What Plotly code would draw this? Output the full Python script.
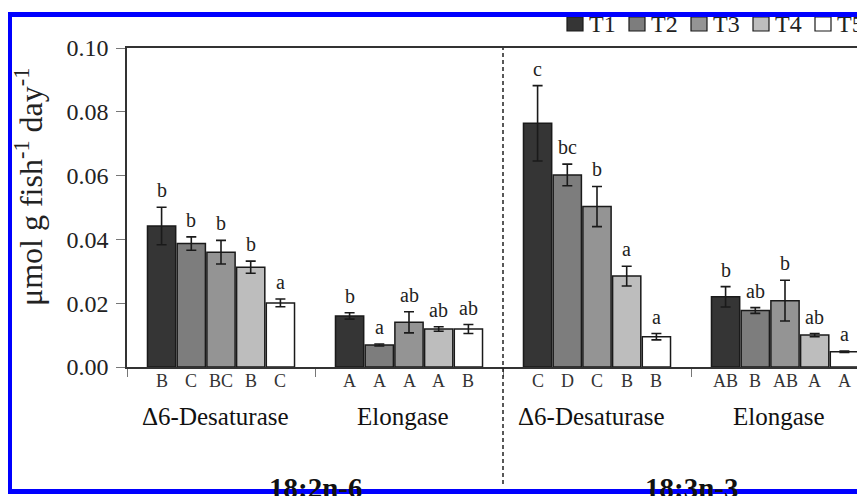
import plotly.graph_objects as go

# ---------------- data ----------------
enzymes = ["Δ6-Desaturase", "Elongase", "Δ6-Desaturase", "Elongase"]
fatty_acids = ["18:2n-6", "18:3n-3"]
treatments = ["T1", "T2", "T3", "T4", "T5"]

T1 = [0.0442, 0.0160, 0.0764, 0.0220]
T2 = [0.0387, 0.0069, 0.0602, 0.0177]
T3 = [0.0360, 0.0140, 0.0503, 0.0208]
T4 = [0.0313, 0.0119, 0.0285, 0.0100]
T5 = [0.0201, 0.0119, 0.0095, 0.0048]

T1_err = [0.0059, 0.0010, 0.0118, 0.0032]
T2_err = [0.0021, 0.0003, 0.0034, 0.0009]
T3_err = [0.0037, 0.0033, 0.0063, 0.0064]
T4_err = [0.0019, 0.0007, 0.0031, 0.0005]
T5_err = [0.0012, 0.0014, 0.0010, 0.0002]

T1_upper = ["b", "b", "c", "b"]
T2_upper = ["b", "a", "bc", "ab"]
T3_upper = ["b", "ab", "b", "b"]
T4_upper = ["b", "ab", "a", "ab"]
T5_upper = ["a", "ab", "a", "a"]

T1_lower = ["B", "A", "C", "AB"]
T2_lower = ["C", "A", "D", "B"]
T3_lower = ["BC", "A", "C", "AB"]
T4_lower = ["B", "A", "B", "A"]
T5_lower = ["C", "B", "B", "A"]

y_ticks = [0.00, 0.02, 0.04, 0.06, 0.08, 0.10]

values = [T1, T2, T3, T4, T5]
errors = [T1_err, T2_err, T3_err, T4_err, T5_err]
upper = [T1_upper, T2_upper, T3_upper, T4_upper, T5_upper]
lower = [T1_lower, T2_lower, T3_lower, T4_lower, T5_lower]

# ---------------- style ----------------
colors = ["#353535", "#7d7d7d", "#949494", "#bdbdbd", "#ffffff"]
FONT = "Liberation Serif, Times New Roman, serif"
PAGE = 8                      # default body margin of the html page
W, H = 865 - PAGE, 496 - PAGE
ML, MT = 127 - PAGE, 48 - PAGE
PLOT_BOTTOM = 367 - PAGE
MR, MB = 0, H - PLOT_BOTTOM
PW, PH = W - ML - MR, H - MT - MB
GROUP_PX = 188.0
BARGAP, BARGROUPGAP = 0.21, 0.05


def px_x(p):
    """screen x (window pixel) -> paper x"""
    return (p - PAGE - ML) / PW


def px_y(p):
    """screen y (window pixel) -> paper y"""
    return (PLOT_BOTTOM - (p - PAGE)) / PH


x_groups = list(range(len(enzymes)))
fig = go.Figure()
for k, name in enumerate(treatments):
    fig.add_trace(go.Bar(
        name=name, x=x_groups, y=values[k],
        marker=dict(color=colors[k], line=dict(color="#1a1a1a", width=1.5)),
        error_y=dict(type="data", array=errors[k], visible=True,
                     color="#1a1a1a", thickness=1.6, width=5),
        showlegend=False,
    ))

slot = (1 - BARGAP) / len(treatments)
annotations = []
for k in range(len(treatments)):
    off = -(1 - BARGAP) / 2 + slot * (k + 0.5)
    for g in x_groups:
        annotations.append(dict(
            x=g + off, y=values[k][g] + errors[k][g], xref="x", yref="y",
            text=upper[k][g], showarrow=False, yanchor="bottom", yshift=4,
            font=dict(family=FONT, size=20, color="#222")))
        annotations.append(dict(
            x=g + off, y=0, xref="x", yref="y",
            text=lower[k][g], showarrow=False, yanchor="middle", yshift=-14,
            font=dict(family=FONT, size=18, color="#333")))

for g in x_groups:
    annotations.append(dict(
        x=g, y=0, xref="x", yref="y", text=enzymes[g], showarrow=False,
        yanchor="middle", yshift=-49, xshift=-6,
        font=dict(family=FONT, size=25, color="#111")))

for i, fa in enumerate(fatty_acids):
    annotations.append(dict(
        x=2 * i + 0.5, y=0, xref="x", yref="y", text="<b>" + fa + "</b>",
        showarrow=False, yanchor="middle", yshift=-121,
        font=dict(family=FONT, size=29, color="#111")))

# y axis title
annotations.append(dict(
    x=px_x(29), y=px_y(187), xref="paper", yref="paper",
    text="μmol g fish<sup>-1</sup> day<sup>-1</sup>", textangle=-90,
    showarrow=False, xanchor="center", yanchor="middle",
    font=dict(family=FONT, size=32, color="#222")))

shapes = [
    dict(type="line", xref="x", yref="paper", x0=1.5, x1=1.5,
         y0=px_y(484), y1=1, line=dict(color="#222", width=1.5, dash="4px,3px")),
]

# legend (top right)
for k, name in enumerate(treatments):
    sx = 567 + 62 * k
    shapes.append(dict(type="rect", xref="paper", yref="paper",
                       x0=px_x(sx), x1=px_x(sx + 16), y0=px_y(31), y1=px_y(17),
                       fillcolor=colors[k], line=dict(color="#1a1a1a", width=1.2),
                       layer="above"))
    annotations.append(dict(x=px_x(sx + 20), y=px_y(24), xref="paper", yref="paper",
                            text=name, showarrow=False, xanchor="left",
                            yanchor="middle",
                            font=dict(family=FONT, size=24, color="#222")))

# blue frame
shapes.append(dict(type="rect", xref="paper", yref="paper",
                   x0=px_x(9.5), x1=px_x(885), y0=px_y(491.5), y1=px_y(14.5),
                   line=dict(color="#0000ff", width=5), fillcolor="rgba(0,0,0,0)",
                   layer="above"))

fig.update_layout(
    width=W, height=H,
    margin=dict(l=ML, r=MR, t=MT, b=MB, autoexpand=False),
    paper_bgcolor="white", plot_bgcolor="white",
    barmode="group", bargap=BARGAP, bargroupgap=BARGROUPGAP,
    font=dict(family=FONT, color="#222"),
    showlegend=False,
    annotations=annotations,
    shapes=shapes,
)

fig.update_xaxes(
    range=[-0.5, -0.5 + PW / GROUP_PX],
    tickvals=[-0.5, 0.5, 1.5, 2.5, 3.5], showticklabels=False,
    ticks="outside", ticklen=8, tickcolor="#777", tickwidth=1,
    showline=True, linecolor="#333", linewidth=1.5, mirror=True,
    showgrid=False, zeroline=False,
)
fig.update_yaxes(
    range=[0, 0.1], tickvals=y_ticks, tickformat=".2f",
    ticks="outside", ticklen=9, tickcolor="#777", tickwidth=1,
    ticklabelstandoff=3,
    tickfont=dict(family=FONT, size=24, color="#222"),
    showline=True, linecolor="#333", linewidth=1.5,
    showgrid=False, zeroline=False,
)

fig.write_html("out.html")
